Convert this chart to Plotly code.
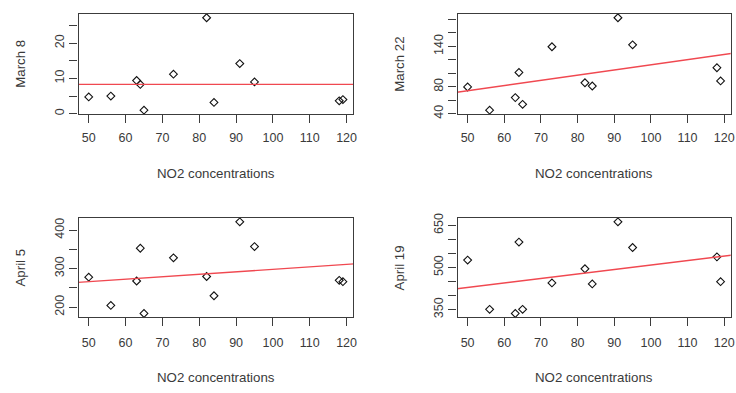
import plotly.graph_objects as go

# ---- data ----
no2 = [50, 56, 63, 64, 65, 73, 82, 84, 91, 95, 118, 119]
march8 = [4.75, 5.0, 9.4, 8.3, 1.0, 11.2, 27.2, 3.2, 14.2, 9.0, 3.65, 4.0]
march22 = [79.7, 45.3, 63.9, 101.2, 53.9, 139.4, 85.9, 81.1, 182.4, 142.2, 108.3, 88.7]
april5 = [277.8, 204.2, 267.8, 353.1, 183.3, 328.0, 279.5, 229.3, 421.8, 357.3, 269.5, 266.1]
april19 = [526.3, 351.1, 336.3, 590.5, 351.1, 445.0, 495.4, 441.6, 662.6, 571.0, 537.8, 449.6]

panel_titles = ["March 8", "March 22", "April 5", "April 19"]
fit_intercepts = [8.3, 35.7, 234.2, 348.9]
fit_slopes = [0.0, 0.769, 0.640, 1.598]

x_title = "NO2 concentrations"
x_ticks = [50, 60, 70, 80, 90, 100, 110, 120]
y_ticks = [
    [0, 5, 10, 15, 20, 25],
    [40, 60, 80, 100, 120, 140, 160, 180],
    [200, 250, 300, 350, 400],
    [350, 400, 450, 500, 550, 600, 650],
]
y_tick_labels = [
    ["0", "", "10", "", "20", ""],
    ["40", "", "80", "", "", "140", "", ""],
    ["200", "", "300", "", "400"],
    ["350", "", "", "500", "", "", "650"],
]
series = [march8, march22, april5, april19]

# ---- layout (pixels) ----
W, H = 736, 393
boxes = [(79, 355, 9.3, 111.7), (460, 734.7, 9.3, 111.7),
         (79, 355, 218.7, 320.3), (460, 734.7, 218.7, 320.3)]
INK = "#3c3c3c"
TXT = "#3a3a3a"
FONT = "Liberation Sans, Arial, sans-serif"


def rrange(v):
    lo, hi = min(v), max(v)
    d = (hi - lo) * 0.04
    return [lo - d, hi + d]


xr = rrange(no2)
fig = go.Figure()
annotations = []
for i, (ys, box) in enumerate(zip(series, boxes)):
    l, r, t, b = box
    n = "" if i == 0 else str(i + 1)
    xa, ya = "x" + n, "y" + n
    fig.add_trace(go.Scatter(x=no2, y=ys, mode="markers", xaxis=xa, yaxis=ya,
                             marker=dict(symbol="diamond-open", size=6,
                                         color="#111111", line=dict(width=1.1, color="#111111")),
                             cliponaxis=False, showlegend=False, hoverinfo="skip"))
    lx = [xr[0] - 5, xr[1] + 5]
    ly = [fit_intercepts[i] + fit_slopes[i] * v for v in lx]
    fig.add_trace(go.Scatter(x=lx, y=ly, mode="lines", xaxis=xa, yaxis=ya,
                             line=dict(color="rgb(240,72,80)", width=1.4),
                             showlegend=False, hoverinfo="skip"))
    axis_common = dict(showline=True, mirror=True, linecolor=INK, linewidth=1.2,
                       ticks="outside", ticklen=8, tickwidth=1.1, tickcolor=INK,
                       showgrid=False, zeroline=False,
                       tickfont=dict(family=FONT, size=12.5, color=TXT))
    fig.layout["xaxis" + n] = dict(axis_common, domain=[l / W, r / W], anchor=ya,
                                   range=xr, tickvals=x_ticks,
                                   ticklabelstandoff=4 if i < 2 else 6)
    fig.layout["yaxis" + n] = dict(axis_common, domain=[1 - b / H, 1 - t / H], anchor=xa,
                                   range=rrange(ys), tickvals=y_ticks[i],
                                   ticktext=y_tick_labels[i], tickangle=-90,
                                   ticklabelstandoff=0)
    xt_y = 173.3 if i < 2 else 382.7
    annotations.append(dict(text=x_title, x=(l + r) / 2 / W, y=1 - xt_y / H,
                            xref="paper", yref="paper", showarrow=False,
                            xanchor="center", yanchor="middle",
                            font=dict(family=FONT, size=13.3, color=TXT)))
    annotations.append(dict(text=panel_titles[i], x=(l - 58) / W, y=1 - (t + b) / 2 / H,
                            xref="paper", yref="paper", showarrow=False, textangle=-90,
                            xanchor="center", yanchor="middle",
                            font=dict(family=FONT, size=13.3, color=TXT)))

fig.update_layout(width=W, height=H, margin=dict(l=0, r=0, t=0, b=0),
                  paper_bgcolor="white", plot_bgcolor="white",
                  annotations=annotations, showlegend=False)
fig.write_html("out.html", config={"displayModeBar": False},
               post_script="document.body.style.margin='0px';document.body.style.padding='0px';")
